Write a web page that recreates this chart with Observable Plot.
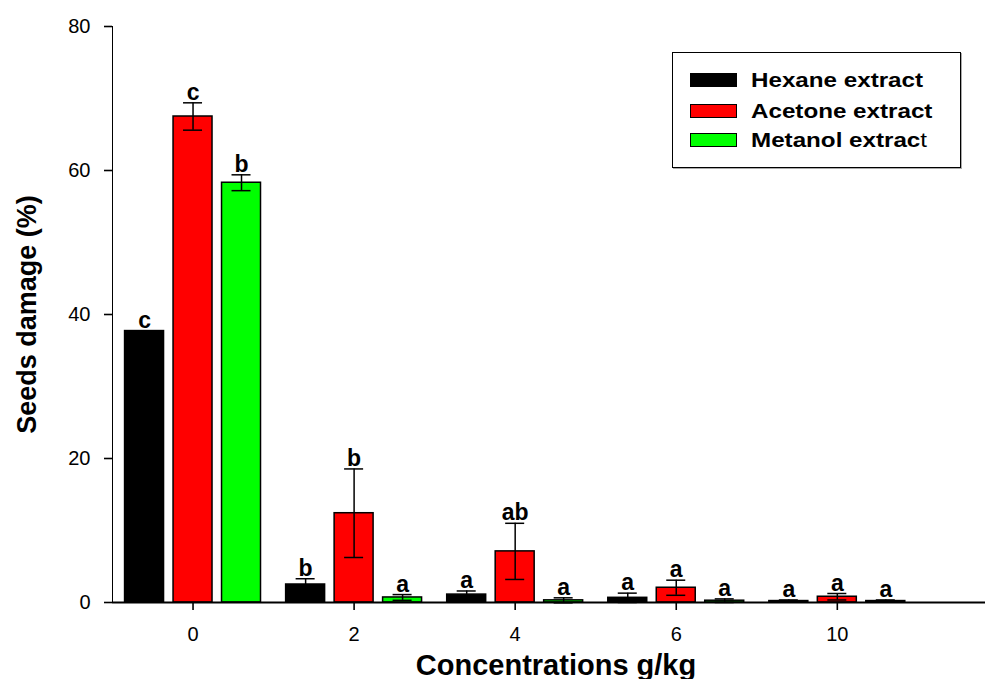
<!DOCTYPE html>
<html>
<head>
<meta charset="utf-8">
<script src="https://cdn.jsdelivr.net/npm/d3@7"></script>
<script src="https://cdn.jsdelivr.net/npm/@observablehq/plot@0.6"></script>
<style>
  body { margin: 0; background: #fff; font-family: "Liberation Sans", Arial, sans-serif; }
  #wrap { position: relative; width: 988px; height: 679px; }
  #wrap svg [aria-label^="y-axis"] path, #wrap svg [aria-label^="y-axis"] line,
  #wrap svg [aria-label^="x-axis"] path, #wrap svg [aria-label^="x-axis"] line { stroke-width: 1.6px; }
  #legend { position: absolute; left: 672px; top: 52px; width: 287px; height: 114px;
            border: 1.5px solid #000; box-shadow: 1px 1px 0 #aaa; background: #fff; }
  .row { position: absolute; left: 17px; height: 24px; display: flex; align-items: center; }
  .sw { width: 45px; height: 12px; border: 1px solid #000; }
  .lab { margin-left: 14px; font-weight: bold; font-size: 19.5px; display: inline-block;
         transform: scaleX(1.24); transform-origin: left center; white-space: nowrap; color: #000; }
</style>
</head>
<body>
<div id="wrap"></div>
<script>
// ---- data ----
const concentrations = ["0", "2", "4", "6", "10"];
const seriesNames = ["Hexane extract", "Acetone extract", "Metanol extract"];
const seriesColors = ["#000000", "#ff0000", "#00ff00"];

const hexane  = [37.7, 2.5, 1.1, 0.65, 0.2];
const acetone = [67.5, 12.4, 7.1, 2.05, 0.8];
const metanol = [58.3, 0.7, 0.3, 0.25, 0.2];

const hexaneSE  = [0, 0.8, 0.5, 0.65, 0.15];
const acetoneSE = [1.9, 6.15, 3.9, 1.05, 0.45];
const metanolSE = [1.1, 0.4, 0.35, 0.25, 0.15];

const hexaneLetters  = ["c", "b", "a", "a", "a"];
const acetoneLetters = ["c", "b", "ab", "a", "a"];
const metanolLetters = ["b", "a", "a", "a", "a"];

const yTicks = [0, 20, 40, 60, 80];
const xTitle = "Concentrations g/kg";
const yTitle = "Seeds damage (%)";

// ---- layout constants (in group units) ----
const offsets = [-0.301, 0, 0.301];
const halfW = 0.121;
const cap = 0.059;

const values = [hexane, acetone, metanol];
const ses = [hexaneSE, acetoneSE, metanolSE];
const letters = [hexaneLetters, acetoneLetters, metanolLetters];

const rows = [];
seriesNames.forEach((name, s) => {
  concentrations.forEach((c, i) => {
    rows.push({i, name, x: i + offsets[s], value: values[s][i], se: ses[s][i], letter: letters[s][i]});
  });
});
const errRows = rows.filter(d => d.se > 0);

const chart = Plot.plot({
  width: 988,
  height: 679,
  marginLeft: 112,
  marginRight: 3,
  marginTop: 26,
  marginBottom: 77,
  style: { fontFamily: "'Liberation Sans', Arial, sans-serif", fontSize: "20px", background: "white", color: "black", overflow: "visible" },
  x: { type: "linear", domain: [-0.5, 4.92], ticks: [0, 1, 2, 3, 4], tickFormat: i => concentrations[i],
       tickSize: 8, tickPadding: 16, label: null },
  y: { domain: [0, 80], ticks: yTicks, tickSize: 8, tickPadding: 14, label: null, line: true },
  color: { domain: seriesNames, range: seriesColors },
  marks: [
    Plot.rect(rows, { x1: d => d.x - halfW, x2: d => d.x + halfW, y1: 0, y2: "value",
                      fill: "name", stroke: "black", strokeWidth: 1.5 }),
    Plot.ruleX(errRows, { x: "x", y1: d => d.value - d.se, y2: d => d.value + d.se, stroke: "black", strokeWidth: 1.5 }),
    Plot.ruleY(errRows, { x1: d => d.x - cap, x2: d => d.x + cap, y: d => d.value + d.se, stroke: "black", strokeWidth: 1.5 }),
    Plot.ruleY(errRows, { x1: d => d.x - cap, x2: d => d.x + cap, y: d => d.value - d.se, stroke: "black", strokeWidth: 1.5 }),
    Plot.text(rows, { x: "x", y: d => d.value + d.se, text: "letter", dy: -3, lineAnchor: "bottom",
                      fontWeight: "bold", fontSize: 23, fill: "black" }),
    Plot.ruleY([0], { stroke: "black", strokeWidth: 2 }),
    Plot.text([yTitle], { text: d => d, frameAnchor: "left", dx: -85, rotate: -90, textAnchor: "middle",
                          lineAnchor: "middle", fontWeight: "bold", fontSize: 27, fill: "black" }),
    Plot.text([xTitle], { text: d => d, frameAnchor: "bottom", textAnchor: "middle", lineAnchor: "bottom",
                          dx: 7, dy: 72, fontWeight: "bold", fontSize: 29, fill: "black" })
  ]
});

const wrap = document.getElementById("wrap");
wrap.appendChild(chart);

// legend (overlay inside the plot area)
const legend = document.createElement("div");
legend.id = "legend";
const rowCenters = [27, 58, 87];
seriesNames.forEach((name, s) => {
  const r = document.createElement("div");
  r.className = "row";
  r.style.top = (rowCenters[s] - 12) + "px";
  const sw = document.createElement("div");
  sw.className = "sw";
  sw.style.background = seriesColors[s];
  const lab = document.createElement("span");
  lab.className = "lab";
  if (s === 2) {
    lab.textContent = name.slice(0, -1);
    const t = document.createElement("span");
    t.style.fontWeight = "normal";
    t.textContent = name.slice(-1);
    lab.appendChild(t);
  } else {
    lab.textContent = name;
  }
  r.appendChild(sw);
  r.appendChild(lab);
  legend.appendChild(r);
});
wrap.appendChild(legend);
</script>
</body>
</html>
